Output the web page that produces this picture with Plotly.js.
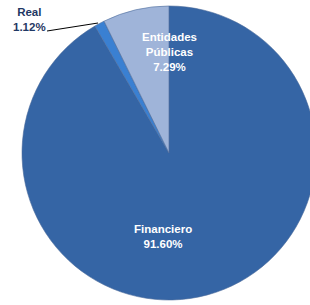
<!DOCTYPE html>
<html><head><meta charset="utf-8">
<script src="https://cdn.plot.ly/plotly-3.0.1.min.js"></script>
<style>html,body{margin:0;padding:0;overflow:hidden;background:#fff}#chart{width:336px;height:305px}</style>
</head><body><div id="chart"></div>
<script>
var categories = ["Financiero", "Real", "Entidades<br>Públicas"];
var values = [91.60, 1.12, 7.29];
var colors = ["#3565a5", "#3a80d2", "#9fb4d9"];

var W = 336, H = 305;
function px(x){return x / W;}
function py(y){return 1 - y / H;}
function pct(v){return v.toFixed(2) + "%";}

var trace = {
  type: "pie",
  labels: categories,
  values: values,
  sort: false,
  direction: "clockwise",
  rotation: 0,
  textinfo: "none",
  hoverinfo: "label+percent",
  marker: {colors: colors, line: {color: "#4a6a9a", width: 0.6}},
  domain: {x: [0.006, 1], y: [5 / H, 1 - 6 / H]},
  showlegend: false
};

var fam = "'Liberation Sans', Arial, sans-serif";
function ann(x, y, txt, color){
  return {x: px(x), y: py(y), xref: "paper", yref: "paper", xanchor: "center", yanchor: "middle",
          showarrow: false, text: "<b>" + txt + "</b>", align: "center",
          font: {family: fam, size: 11.5, color: color}};
}
var annotations = [
  ann(163, 236, categories[0] + "<br>" + pct(values[0]), "#ffffff"),
  ann(169, 52, categories[2] + "<br>" + pct(values[2]), "#ffffff"),
  ann(29, 20, categories[1] + "<br>" + pct(values[1]), "#1f3864")
];

var layout = {
  width: W, height: H,
  margin: {l: 0, r: 0, t: 0, b: 0},
  paper_bgcolor: "#ffffff",
  annotations: annotations,
  shapes: [{type: "line", xref: "paper", yref: "paper", x0: px(47), y0: py(31), x1: px(98), y1: py(23),
            line: {color: "#000000", width: 1}}]
};

Plotly.newPlot("chart", [trace], layout, {staticPlot: true, displayModeBar: false});
</script></body></html>
